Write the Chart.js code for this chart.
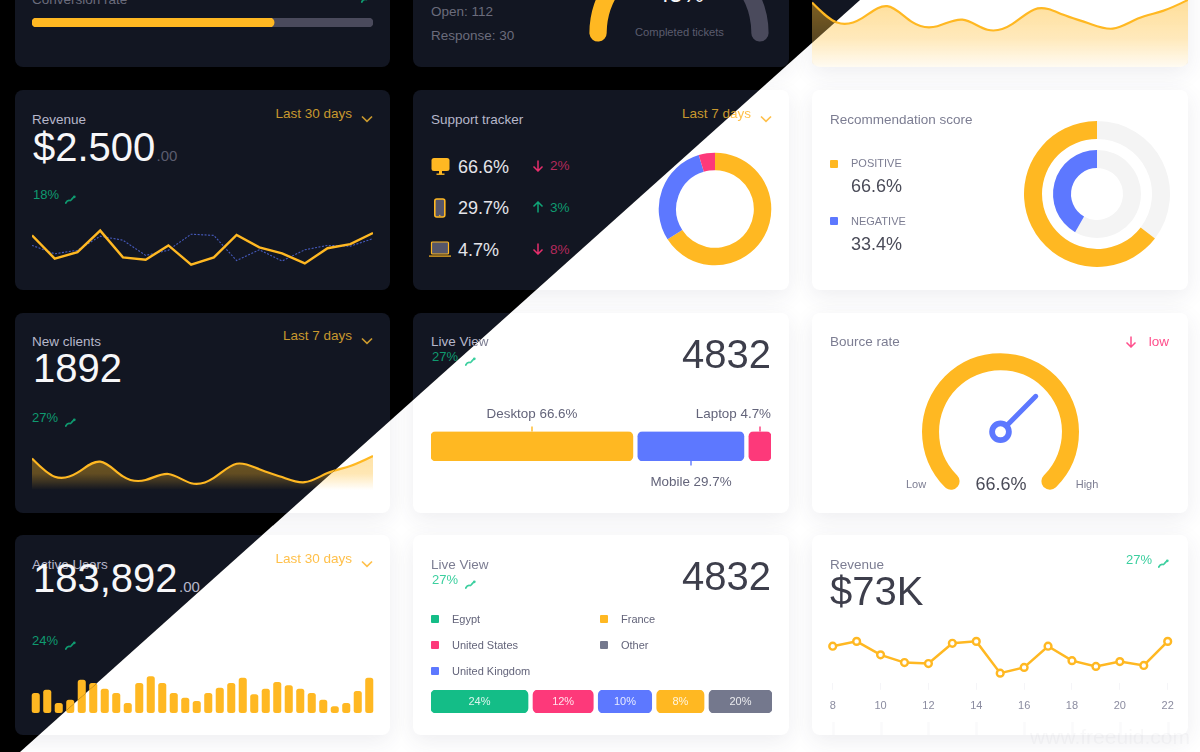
<!DOCTYPE html>
<html>
<head>
<meta charset="utf-8">
<title>Dashboard widgets</title>
<script src="https://cdn.jsdelivr.net/npm/chart.js@4"></script>
<style>
  html, body { margin: 0; padding: 0; background: #000; }
  body { width: 1200px; height: 752px; overflow: hidden; position: relative; font-family: "Liberation Sans", Arial, sans-serif; }
  .layer { position: absolute; left: 0; top: 0; width: 1200px; height: 752px; overflow: hidden; }
  #dark { background: #000; clip-path: polygon(0 0, 860px 0, 20px 752px, 0 752px); }
  #light { background: #fff; clip-path: polygon(860px 0, 1200px 0, 1200px 752px, 20px 752px); }
  .card { position: absolute; border-radius: 8px; }
  #dark .card { background: #121622; }
  #light .card { background: #fff; box-shadow: 0 6px 22px rgba(60, 60, 90, 0.09); }
  .txt { position: absolute; white-space: nowrap; line-height: 1; }
  canvas, svg { position: absolute; display: block; }
</style>
</head>
<body>
<div class="layer" id="dark"></div>
<div class="layer" id="light"></div>
<script>
// chart data
const conversionRate = 71;
const ticketsCompleted = 45;
const revenueGold = [79, 21, 37, 91, 24, 18, 54, 6, 24, 80, 49, 34, 9, 47, 57, 85];
const revenueBlue = [54, 33, 42, 77, 67, 29, 42, 82, 79, 16, 43, 15, 43, 54, 52, 71];
const supportLabels = ["Desktop", "Mobile", "Laptop"];
const supportShares = [66.6, 29.7, 4.7];
const scoreOuter = [35.4, 64.6];
const scoreInner = [58.3, 41.7];
const bounceValue = 66.6;
const liveLabels = ["Desktop", "Mobile", "Laptop"];
const liveWidths = [59.4, 31.2, 6.5];
const countryLabels = ["24%", "12%", "10%", "8%", "20%"];
const countryWidths = [28.5, 17.7, 15.7, 13.9, 18.5];
const activeUsers = [60, 70, 30, 40, 100, 90, 73, 60, 30, 90, 110, 90, 60, 46, 36, 60, 76, 90, 106, 56, 73, 93, 83, 73, 60, 40, 20, 30, 66, 106];
const revenueDays = [8, 9, 10, 11, 12, 13, 14, 15, 16, 17, 18, 19, 20, 21, 22];
const revenueValues = [38, 43, 29, 21, 20, 41, 43, 10, 16, 38, 23, 17, 22, 18, 43];

const GOLD = "#ffb822", BLUE = "#5d78ff", PINK = "#fd397a", GREEN = "#14bd87", GRAY = "#74788d";
const GAP = 1.47;

const themes = {
  dark: {
    title: "#b6b7ca", big: "#f7f7f9", cents: "#5b5c6e", soft: "#6b6c7c", mid: "#e4e4ea",
    gold: "#c8982e", green: "#0f9a70", pink: "#b42a5c", pinkIcon: "#e62e6c", track: "#4a4a5c", screen: "#55566a",
    arrowUp: "#0fa577", pointFill: "#121622"
  },
  light: {
    title: "#7c7d92", big: "#3d3e4b", cents: "#a0a1b0", soft: "#7c7d92", mid: "#4a4b58",
    gold: "#ffc04a", green: "#3ccf9f", pink: "#ff4f8c", pinkIcon: "#ff4f8c", track: "#f4f4f4", screen: "#55566a",
    arrowUp: "#3ccf9f", pointFill: "#fff"
  }
};

Chart.defaults.animation = false;
Chart.defaults.responsive = false;
Chart.defaults.maintainAspectRatio = false;
Chart.defaults.font.family = '"Liberation Sans", Arial, sans-serif';
Chart.defaults.plugins.legend.display = false;
Chart.defaults.plugins.tooltip.enabled = false;

// helpers
function text(layer, str, x, baseline, size, color, align) {
  const el = document.createElement("div");
  el.className = "txt";
  el.textContent = str;
  el.style.fontSize = size + "px";
  el.style.color = color;
  el.style.top = (baseline - 0.8465 * size) + "px";
  if (align === "right") el.style.right = (1200 - x) + "px";
  else if (align === "center") { el.style.left = x + "px"; el.style.transform = "translateX(-50%)"; }
  else el.style.left = x + "px";
  layer.appendChild(el);
  return el;
}

function box(layer, x, y, w, h, color, radius) {
  const el = document.createElement("div");
  el.style.cssText = "position:absolute;left:" + x + "px;top:" + y + "px;width:" + w + "px;height:" + h + "px;background:" + color + ";border-radius:" + (radius || 0) + "px";
  layer.appendChild(el);
}

function icon(layer, x, y, w, h, body) {
  const ns = "http://www.w3.org/2000/svg";
  const svg = document.createElementNS(ns, "svg");
  svg.setAttribute("width", w);
  svg.setAttribute("height", h);
  svg.setAttribute("viewBox", "0 0 " + w + " " + h);
  svg.style.left = x + "px";
  svg.style.top = y + "px";
  svg.innerHTML = body;
  layer.appendChild(svg);
}

function chartAt(layer, x, y, w, h, config) {
  const c = document.createElement("canvas");
  c.width = w;
  c.height = h;
  c.style.left = x + "px";
  c.style.top = y + "px";
  c.style.width = w + "px";
  c.style.height = h + "px";
  layer.appendChild(c);
  new Chart(c, config);
  return c;
}

function trend(layer, x, y, color) {
  icon(layer, x, y, 11, 9, '<path d="M0.7 8 C2 5.5 3.5 5 5 5.5 C6.5 6 7 3 8.8 2.2" fill="none" stroke="' + color + '" stroke-width="1.8" stroke-linecap="round"/><circle cx="9.3" cy="1.8" r="1.4" fill="' + color + '"/>');
}

function chevron(layer, x, y, color) {
  icon(layer, x, y, 12, 8, '<path d="M1 1.5 L6 6.3 L11 1.5" fill="none" stroke="' + color + '" stroke-width="1.7"/>');
}

function arrow(layer, x, y, color, up) {
  const path = up ? "M6 11.5 V1 M1.5 5.5 L6 1 L10.5 5.5" : "M6 0.5 V11 M1.5 6.5 L6 11 L10.5 6.5";
  icon(layer, x, y, 12, 12, '<path d="' + path + '" fill="none" stroke="' + color + '" stroke-width="1.5"/>');
}

const fadeFill = (top, middle, bottom) => (ctx) => {
  const area = ctx.chart.chartArea;
  if (!area) return "transparent";
  const g = ctx.chart.ctx.createLinearGradient(0, area.top, 0, area.bottom);
  g.addColorStop(0, "rgba(255,184,34," + top + ")");
  g.addColorStop(0.6, "rgba(255,184,34," + middle + ")");
  g.addColorStop(1, "rgba(255,184,34," + bottom + ")");
  return g;
};

const hiddenScales = (xMin, xMax, yMin, yMax) => ({
  x: { display: false, min: xMin, max: xMax },
  y: { display: false, min: yMin, max: yMax }
});

// plugins
// the area lines are a basis spline over the same knots as the revenue line:
// they pass near the points, not through them, so tension alone can't give that shape
const basisPlugin = {
  id: "basis",
  afterDatasetsUpdate(chart) {
    const meta = chart.getDatasetMeta(0);
    meta.dataset.updateControlPoints(chart.chartArea, "x");
    const raw = meta.data.map((p) => ({ x: p.x, y: p.y }));
    const last = raw.length - 1;
    meta.data.forEach((p, i) => {
      if (i > 0 && i < last) p.y = (raw[i - 1].y + 4 * raw[i].y + raw[i + 1].y) / 6;
      if (i > 0) {
        p.cp1x = (raw[i - 1].x + 2 * raw[i].x) / 3;
        p.cp1y = (raw[i - 1].y + 2 * raw[i].y) / 3;
      }
      if (i < last) {
        p.cp2x = (2 * raw[i].x + raw[i + 1].x) / 3;
        p.cp2y = (2 * raw[i].y + raw[i + 1].y) / 3;
      }
    });
  }
};

const needlePlugin = {
  id: "needle",
  afterDatasetsDraw(chart, args, opts) {
    const arc = chart.getDatasetMeta(0).data[0];
    // the arc runs past the low/high marks by the width of its round caps
    const cap = opts.capDeg * Math.PI / 180;
    const a = arc.startAngle + cap + (arc.endAngle - arc.startAngle - 2 * cap) * opts.value / 100;
    const ctx = chart.ctx;
    ctx.save();
    ctx.strokeStyle = BLUE;
    ctx.lineCap = "round";
    ctx.lineWidth = 5;
    ctx.beginPath();
    ctx.moveTo(arc.x + Math.cos(a) * 9, arc.y + Math.sin(a) * 9);
    ctx.lineTo(arc.x + Math.cos(a) * 50, arc.y + Math.sin(a) * 50);
    ctx.stroke();
    ctx.lineWidth = 5.8;
    ctx.beginPath();
    ctx.arc(arc.x, arc.y, 8.4, 0, Math.PI * 2);
    ctx.stroke();
    ctx.restore();
  }
};

const barTextPlugin = {
  id: "barText",
  afterDatasetsDraw(chart, args, opts) {
    const ctx = chart.ctx;
    ctx.save();
    ctx.font = '11px "Liberation Sans"';
    ctx.fillStyle = "rgba(255,255,255,0.85)";
    ctx.textAlign = "center";
    ctx.textBaseline = "middle";
    chart.data.datasets.forEach((ds, i) => {
      const bar = chart.getDatasetMeta(i).data[0];
      ctx.fillText(ds.label, (bar.x + bar.base) / 2, bar.y + 0.5);
    });
    ctx.restore();
  }
};

const calloutPlugin = {
  id: "callout",
  afterDatasetsDraw(chart, args, opts) {
    const ctx = chart.ctx;
    ctx.save();
    ctx.lineWidth = 1.4;
    chart.data.datasets.forEach((ds, i) => {
      const bar = chart.getDatasetMeta(i).data[0];
      const down = i === 1;
      const cx = Math.round((bar.x + bar.base) / 2);
      const edge = down ? bar.y + bar.height / 2 : bar.y - bar.height / 2;
      ctx.strokeStyle = ds.backgroundColor;
      ctx.beginPath();
      ctx.moveTo(cx, edge);
      ctx.lineTo(cx, edge + (down ? 4.5 : -5));
      ctx.stroke();
    });
    ctx.restore();
  }
};

const lowerTicksPlugin = {
  id: "lowerTicks",
  afterDraw(chart) {
    const ctx = chart.ctx, sx = chart.scales.x;
    ctx.save();
    ctx.strokeStyle = "#fafafb";
    sx.ticks.forEach((t, i) => {
      const px = Math.round(sx.getPixelForTick(i)) + 0.5;
      ctx.beginPath();
      ctx.moveTo(px, chart.height - 13);
      ctx.lineTo(px, chart.height);
      ctx.stroke();
    });
    ctx.restore();
  }
};

function stackedRanges(widths) {
  let pos = 0;
  return widths.map((w) => {
    const r = [pos, pos + w];
    pos += w + GAP;
    return r;
  });
}

function segmentBar(widths, labels, colors, plugin, padTop, padBottom) {
  const ranges = stackedRanges(widths);
  const total = ranges[ranges.length - 1][1];
  return {
    type: "bar",
    plugins: [plugin],
    data: {
      labels: [""],
      datasets: ranges.map((r, i) => ({
        label: labels[i],
        data: [r],
        backgroundColor: colors[i],
        borderRadius: 5,
        borderSkipped: false,
        grouped: false,
        barPercentage: 1,
        categoryPercentage: 1
      }))
    },
    options: {
      indexAxis: "y",
      layout: { padding: { top: padTop, bottom: padBottom } },
      scales: hiddenScales(0, total)
    }
  };
}

// cards
function conversionCard(layer, t) {
  text(layer, "Conversion rate", 32, 4.5, 13.5, t.soft);
  trend(layer, 361, -6, t.green);
  chartAt(layer, 32, 18, 341, 9, {
    type: "bar",
    data: {
      labels: [""],
      datasets: [
        { data: [conversionRate], backgroundColor: GOLD, borderRadius: 4.5, borderSkipped: false, grouped: false, barPercentage: 1, categoryPercentage: 1 },
        { data: [100], backgroundColor: t.track, borderRadius: 4.5, borderSkipped: false, grouped: false, barPercentage: 1, categoryPercentage: 1 }
      ]
    },
    options: { indexAxis: "y", scales: hiddenScales(0, 100) }
  });
}

function ticketsCard(layer, t) {
  text(layer, "Open: 112", 431, 16, 13.5, t.soft);
  text(layer, "Response: 30", 431, 40.5, 13.5, t.soft);
  text(layer, ticketsCompleted + "%", 680, 2.5, 24, t.big, "center");
  text(layer, "Completed tickets", 679.5, 36, 11.2, t.cents, "center");
  chartAt(layer, 584, -67, 190, 120, {
    type: "doughnut",
    data: { datasets: [{ data: [ticketsCompleted, 100 - ticketsCompleted], backgroundColor: [GOLD, t.track], borderWidth: 0, borderRadius: 9 }] },
    options: { rotation: -96, circumference: 192, radius: 89.6, cutout: "80.7%" }
  });
}

function clientsTopCard(layer, t) {
  const c = chartAt(layer, 810, -3, 380, 70, {
    type: "line",
    plugins: [basisPlugin],
    data: {
      labels: revenueGold.map((v, i) => i),
      datasets: [{ data: revenueGold, borderColor: GOLD, borderWidth: 2.2, tension: 0.4, pointRadius: 0, fill: "start", backgroundColor: fadeFill(0.48, 0.3, 0.06) }]
    },
    options: { layout: { padding: { left: 2, right: 2 } }, scales: hiddenScales(0, 15, -68, 91.6) }
  });
  c.style.borderRadius = "0 0 10px 10px";
}

function revenueCard(layer, t) {
  text(layer, "Revenue", 32, 124, 13.5, t.title);
  text(layer, "$2.500", 33, 161, 40, t.big);
  text(layer, ".00", 156.5, 161, 15, t.cents);
  text(layer, "Last 30 days", 352, 118.5, 13.5, t.gold, "right");
  chevron(layer, 361, 115, t.gold);
  text(layer, "18%", 33, 199, 13, t.green);
  trend(layer, 65, 195, t.green);
  chartAt(layer, 30, 224, 345, 46, {
    type: "line",
    data: {
      labels: revenueGold.map((v, i) => i),
      datasets: [
        { data: revenueGold, borderColor: GOLD, borderWidth: 2.4, tension: 0, pointRadius: 0 },
        { data: revenueBlue, borderColor: "rgba(93,120,255,0.7)", borderWidth: 1.1, borderDash: [2, 1.5], tension: 0, pointRadius: 0 }
      ]
    },
    options: { layout: { padding: { left: 2, right: 2, top: 3, bottom: 3 } }, scales: hiddenScales(0, 15, 0, 100) }
  });
}

function supportCard(layer, t) {
  text(layer, "Support tracker", 431, 124, 13.5, t.title);
  text(layer, "Last 7 days", 751, 118.5, 13.5, t.gold, "right");
  chevron(layer, 760, 115, t.gold);
  icon(layer, 431, 158, 19, 18, '<rect x="0.5" y="0" width="18" height="13" rx="2.5" fill="' + GOLD + '"/><rect x="8" y="13" width="3" height="3" fill="' + GOLD + '"/><rect x="5.5" y="15.5" width="8" height="1.4" fill="' + GOLD + '"/>');
  icon(layer, 433, 198, 14, 21, '<rect x="1.8" y="1" width="10" height="18" rx="2" fill="' + t.screen + '" stroke="' + GOLD + '" stroke-width="1.6"/><circle cx="6.8" cy="17.4" r="0.7" fill="' + GOLD + '"/>');
  icon(layer, 428, 241, 24, 17, '<rect x="3.5" y="1" width="17" height="12" rx="1" fill="' + t.screen + '" stroke="' + GOLD + '" stroke-width="1.2"/><rect x="1" y="14.5" width="22" height="1.2" fill="' + GOLD + '"/>');
  const rows = [["66.6%", "2%", false, 173], ["29.7%", "3%", true, 214.7], ["4.7%", "8%", false, 256.3]];
  rows.forEach((r) => {
    text(layer, r[0], 458, r[3], 18, t.mid);
    arrow(layer, 532, r[3] - 13.5, r[2] ? t.arrowUp : t.pinkIcon, r[2]);
    text(layer, r[1], 550, r[3] - 2.3, 13.5, r[2] ? t.green : t.pink);
  });
  chartAt(layer, 655, 149, 120, 120, {
    type: "doughnut",
    data: { labels: supportLabels, datasets: [{ data: supportShares, backgroundColor: [GOLD, BLUE, PINK], borderWidth: 0 }] },
    options: { radius: 56.3, cutout: "69%" }
  });
}

function scoreCard(layer, t) {
  text(layer, "Recommendation score", 830, 124, 13.5, t.title);
  box(layer, 830, 160, 8, 8, GOLD, 1);
  text(layer, "POSITIVE", 851, 167, 11, t.soft);
  text(layer, "66.6%", 851, 192.3, 18, t.mid);
  box(layer, 830, 217, 8, 8, BLUE, 1);
  text(layer, "NEGATIVE", 851, 225, 11, t.soft);
  text(layer, "33.4%", 851, 250, 18, t.mid);
  chartAt(layer, 1020, 117, 154, 154, {
    type: "doughnut",
    data: {
      datasets: [
        { data: scoreOuter, backgroundColor: [t.track, GOLD], borderWidth: 0, weight: 18 },
        { data: [100], backgroundColor: ["transparent"], borderWidth: 0, weight: 11 },
        { data: scoreInner, backgroundColor: [t.track, BLUE], borderWidth: 0, weight: 18 }
      ]
    },
    options: { radius: 73, cutout: "35.6%" }
  });
}

function clientsCard(layer, t) {
  text(layer, "New clients", 32, 346, 13.5, t.title);
  text(layer, "1892", 33, 381.7, 40, t.big);
  text(layer, "Last 7 days", 352, 340.7, 13.5, t.gold, "right");
  chevron(layer, 361, 337, t.gold);
  text(layer, "27%", 32, 422, 13, t.green);
  trend(layer, 65, 418, t.green);
  chartAt(layer, 30, 449, 345, 41, {
    type: "line",
    plugins: [basisPlugin],
    data: {
      labels: revenueGold.map((v, i) => i),
      datasets: [{ data: revenueGold, borderColor: GOLD, borderWidth: 2.2, tension: 0.4, pointRadius: 0, fill: "start", backgroundColor: fadeFill(0.42, 0.34, 0) }]
    },
    options: { layout: { padding: { left: 2, right: 2 } }, scales: hiddenScales(0, 15, 0, 102.5) }
  });
}

function liveBarCard(layer, t) {
  text(layer, "Live View", 431, 346, 13.5, t.title);
  text(layer, "27%", 432, 361, 13, t.green);
  trend(layer, 465, 357, t.green);
  text(layer, "4832", 771, 368.3, 40, t.big, "right");
  text(layer, "Desktop 66.6%", 532, 418.7, 13.4, "#63647a", "center");
  text(layer, "Laptop 4.7%", 771, 418.7, 13.4, "#63647a", "right");
  text(layer, "Mobile 29.7%", 691, 486, 13.4, "#63647a", "center");
  chartAt(layer, 431, 425, 340, 42, segmentBar(liveWidths, liveLabels, [GOLD, BLUE, PINK], calloutPlugin, 6.5, 6));
}

function bounceCard(layer, t) {
  text(layer, "Bource rate", 830, 346, 13.5, t.title);
  arrow(layer, 1125, 335.5, t.pinkIcon, false);
  text(layer, "low", 1169, 346, 13.5, t.pink, "right");
  text(layer, "66.6%", 1001, 490.7, 18, t.mid, "center");
  text(layer, "Low", 916, 488.3, 11, t.soft, "center");
  text(layer, "High", 1087, 488.3, 11, t.soft, "center");
  chartAt(layer, 905, 345, 191, 157, {
    type: "doughnut",
    plugins: [needlePlugin],
    data: { datasets: [{ data: [100], backgroundColor: [GOLD], borderWidth: 0, borderRadius: 9 }] },
    options: { rotation: -142, circumference: 284, radius: 78.5, cutout: "78.3%", plugins: { needle: { value: bounceValue, capDeg: 7 } } }
  });
}

function activeCard(layer, t) {
  text(layer, "Active Users", 32, 569, 13.5, t.title);
  text(layer, "183,892", 33, 591.7, 40, t.big);
  text(layer, ".00", 179, 591.7, 15, t.title);
  text(layer, "Last 30 days", 352, 563.3, 13.5, t.gold, "right");
  chevron(layer, 361, 560, t.gold);
  text(layer, "24%", 32, 645, 13, t.green);
  trend(layer, 65, 641, t.green);
  chartAt(layer, 30, 672, 345, 41, {
    type: "bar",
    data: {
      labels: activeUsers.map((v, i) => i),
      datasets: [{ data: activeUsers, backgroundColor: GOLD, borderRadius: 2.5, borderSkipped: false, barPercentage: 0.7, categoryPercentage: 1 }]
    },
    options: { scales: { x: { display: false }, y: { display: false, min: 0, max: 123 } } }
  });
}

function countryCard(layer, t) {
  text(layer, "Live View", 431, 569, 13.5, t.title);
  text(layer, "27%", 432, 584, 13, t.green);
  trend(layer, 465, 580, t.green);
  text(layer, "4832", 771, 590, 40, t.big, "right");
  const legend = [["Egypt", 431, 452, 623.4, GREEN], ["France", 599.5, 621, 623.4, GOLD], ["United States", 431, 452, 649.4, PINK], ["Other", 599.5, 621, 649.4, GRAY], ["United Kingdom", 431, 452, 675.4, BLUE]];
  legend.forEach((l) => {
    box(layer, l[1], l[3] - 8.4, 8, 8, l[4], 1);
    text(layer, l[0], l[2], l[3], 11, "#63647a");
  });
  chartAt(layer, 431, 690, 341, 23, segmentBar(countryWidths, countryLabels, [GREEN, PINK, BLUE, GOLD, GRAY], barTextPlugin, 0, 0));
}

function revenueLineCard(layer, t) {
  text(layer, "Revenue", 830, 569, 13.5, t.title);
  text(layer, "$73K", 830, 605, 40, t.big);
  text(layer, "27%", 1152, 564, 13, t.green, "right");
  trend(layer, 1158, 559, t.green);
  chartAt(layer, 812, 625, 376, 110, {
    type: "line",
    plugins: [lowerTicksPlugin],
    data: {
      datasets: [{
        data: revenueDays.map((d, i) => ({ x: d, y: revenueValues[i] })),
        borderColor: GOLD, borderWidth: 2.5, tension: 0, clip: false,
        pointRadius: 3.4, pointBorderWidth: 2.4, pointBorderColor: GOLD, pointBackgroundColor: t.pointFill
      }]
    },
    options: {
      layout: { autoPadding: false, padding: { left: 20.7, right: 20.3, bottom: 12 } },
      scales: {
        x: {
          type: "linear", min: 8, max: 22,
          border: { display: false },
          grid: { drawOnChartArea: false, tickLength: 7, tickColor: "#f5f5f8", drawTicks: true },
          ticks: { stepSize: 2, color: "#8b8ca0", font: { size: 11 }, padding: 10, maxRotation: 0 }
        },
        y: { display: false, min: 0, max: 60 }
      }
    }
  });
}

const columns = [15, 413, 812];
const rowsY = [-133, 90, 312.7, 535];
const cards = [
  [0, 0, conversionCard], [1, 0, ticketsCard], [2, 0, clientsTopCard],
  [0, 1, revenueCard], [1, 1, supportCard], [2, 1, scoreCard],
  [0, 2, clientsCard], [1, 2, liveBarCard], [2, 2, bounceCard],
  [0, 3, activeCard], [1, 3, countryCard], [2, 3, revenueLineCard]
];

// the split runs from (860,0) to (20,752), each side only gets the cards it can show
const splitX = (y) => 860 - y * 840 / 752;

["dark", "light"].forEach((name) => {
  const layer = document.getElementById(name);
  const t = themes[name];
  cards.forEach(([col, row, draw]) => {
    const x = columns[col], y = rowsY[row], w = col === 0 ? 375 : 376, h = 200;
    const seen = name === "dark" ? x < splitX(Math.max(y, 0)) : x + w > splitX(Math.min(y + h, 752));
    if (!seen) return;
    const card = document.createElement("div");
    card.className = "card";
    card.style.cssText = "left:" + x + "px;top:" + y + "px;width:" + w + "px;height:" + h + "px";
    layer.appendChild(card);
    draw(layer, t);
  });
});

text(document.getElementById("light"), "www.freeuid.com", 1190, 744, 21, "rgba(120,120,140,0.05)", "right");
</script>
</body>
</html>
